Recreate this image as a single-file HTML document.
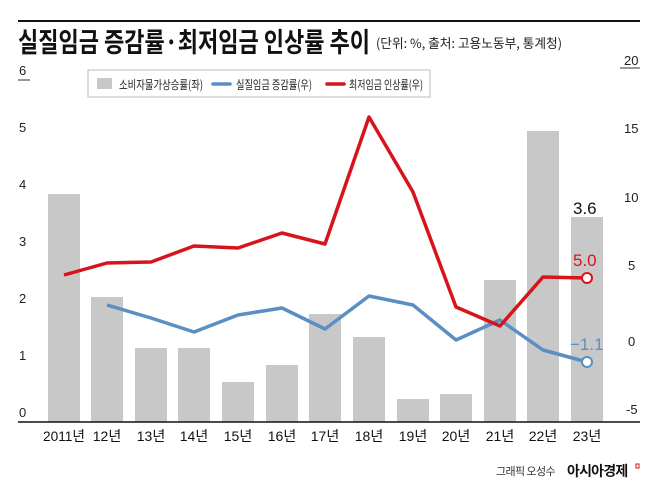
<!DOCTYPE html><html><head><meta charset="utf-8"><style>
body{margin:0;background:#fff;}
svg{display:block;font-family:"Liberation Sans","Noto Sans CJK KR",sans-serif;}
</style></head><body>
<svg width="658" height="490" viewBox="0 0 658 490">
<rect width="658" height="490" fill="#fff"/>
<line x1="18" y1="21" x2="640" y2="21" stroke="#111" stroke-width="2"/>
<text x="18" y="52" font-size="27" font-weight="bold" fill="#111" textLength="352" lengthAdjust="spacingAndGlyphs" font-family="'Noto Sans CJK KR',sans-serif">실질임금 증감률·최저임금 인상률 추이</text>
<text x="376" y="48" font-size="13" fill="#222" textLength="186" lengthAdjust="spacingAndGlyphs" font-family="'Noto Sans CJK KR',sans-serif">(단위: %, 출처: 고용노동부, 통계청)</text>
<g font-size="13" fill="#222">
<text x="19" y="75">6</text><line x1="18" y1="80" x2="30" y2="80" stroke="#333"/>
<text x="19" y="132">5</text>
<text x="19" y="189">4</text>
<text x="19" y="246">3</text>
<text x="19" y="303">2</text>
<text x="19" y="360">1</text>
<text x="19" y="417">0</text>
<text x="624" y="65">20</text><line x1="620" y1="68" x2="640" y2="68" stroke="#333"/>
<text x="624" y="133">15</text>
<text x="624" y="202">10</text>
<text x="628" y="270">5</text>
<text x="628" y="346">0</text>
<text x="626" y="414">-5</text>
</g>
<g fill="#c8c8c8">
<rect x="48" y="194" width="32" height="228"/>
<rect x="91" y="297" width="32" height="125"/>
<rect x="135" y="348" width="32" height="74"/>
<rect x="178" y="348" width="32" height="74"/>
<rect x="222" y="382" width="32" height="40"/>
<rect x="266" y="365" width="32" height="57"/>
<rect x="309" y="314" width="32" height="108"/>
<rect x="353" y="337" width="32" height="85"/>
<rect x="397" y="399" width="32" height="23"/>
<rect x="440" y="394" width="32" height="28"/>
<rect x="484" y="280" width="32" height="142"/>
<rect x="527" y="131" width="32" height="291"/>
<rect x="571" y="217" width="32" height="205"/>
</g>
<line x1="18" y1="422" x2="640" y2="422" stroke="#111" stroke-width="1.5"/>
<rect x="88" y="70" width="342" height="27" fill="#fff" stroke="#bbb"/>
<rect x="97" y="78" width="15" height="11" fill="#c8c8c8"/>
<g font-size="12" fill="#222" font-family="'Noto Sans CJK KR',sans-serif">
<text x="119" y="89" textLength="84" lengthAdjust="spacingAndGlyphs">소비자물가상승률(좌)</text>
<text x="236" y="89" textLength="76" lengthAdjust="spacingAndGlyphs">실질임금 증감률(우)</text>
<text x="349" y="89" textLength="74" lengthAdjust="spacingAndGlyphs">최저임금 인상률(우)</text>
</g>
<line x1="213" y1="84" x2="230" y2="84" stroke="#5b8fc2" stroke-width="3.5" stroke-linecap="round"/>
<line x1="327" y1="84" x2="344" y2="84" stroke="#d7141c" stroke-width="3.5" stroke-linecap="round"/>
<polyline fill="none" stroke="#5b8fc2" stroke-width="3.5" stroke-linejoin="round" points="107,305 151,318 194,332 238,315 282,308 325,329 369,296 413,305 456,340 500,320 543,350 587,362"/>
<polyline fill="none" stroke="#d7141c" stroke-width="3.5" stroke-linejoin="round" points="64,275 107,263 151,262 194,246 238,248 282,233 325,244 369,117 413,192 456,307 500,326 543,277 587,278"/>
<circle cx="587" cy="278" r="5" fill="#fff" stroke="#d7141c" stroke-width="2"/>
<circle cx="587" cy="362" r="5" fill="#fff" stroke="#5b8fc2" stroke-width="2"/>
<text x="573" y="214" font-size="17" fill="#111">3.6</text>
<text x="573" y="266" font-size="17" fill="#d7141c">5.0</text>
<text x="570" y="350" font-size="17" fill="#5b8fc2">−1.1</text>
<g font-size="14" fill="#111" text-anchor="middle" font-family="'Liberation Sans','Noto Sans CJK KR',sans-serif">
<text x="64" y="441" textLength="42" lengthAdjust="spacingAndGlyphs">2011년</text><text x="107" y="441">12년</text><text x="151" y="441">13년</text><text x="194" y="441">14년</text><text x="238" y="441">15년</text><text x="282" y="441">16년</text><text x="325" y="441">17년</text><text x="369" y="441">18년</text><text x="413" y="441">19년</text><text x="456" y="441">20년</text><text x="500" y="441">21년</text><text x="543" y="441">22년</text><text x="587" y="441">23년</text>
</g>
<text x="496" y="475" font-size="11" fill="#333" letter-spacing="-0.6" font-family="'Noto Sans CJK KR',sans-serif">그래픽 오성수</text>
<text x="567" y="476" font-size="14" font-weight="bold" fill="#111" letter-spacing="-0.8" font-family="'Noto Sans CJK KR',sans-serif">아시아경제</text>
<rect x="636" y="464" width="3" height="4" fill="none" stroke="#d7141c"/>
</svg>
</body></html>
